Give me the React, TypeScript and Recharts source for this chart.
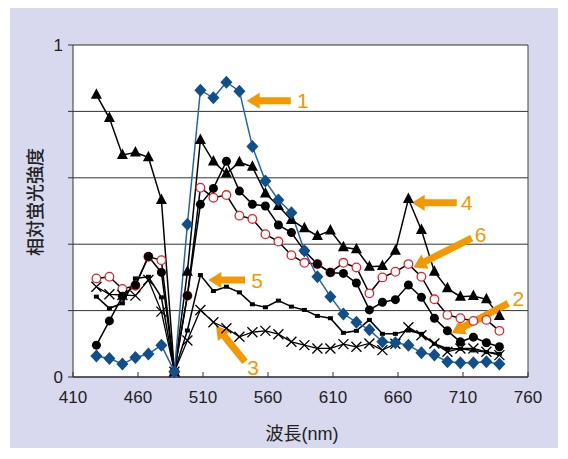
import { LineChart, Line, XAxis, YAxis, CartesianGrid, ReferenceLine } from "recharts";

const wavelengths = [428, 438, 448, 458, 468, 478, 488, 498, 508, 518, 528, 538, 548, 558, 568, 578, 588, 598, 608, 618, 628, 638, 648, 658, 668, 678, 688, 698, 708, 718, 728, 738];

const s1 = [0.063, 0.056, 0.039, 0.059, 0.069, 0.096, 0.016, 0.46, 0.864, 0.841, 0.888, 0.861, 0.694, 0.59, 0.533, 0.495, 0.38, 0.302, 0.242, 0.19, 0.165, 0.142, 0.106, 0.103, 0.096, 0.073, 0.066, 0.046, 0.043, 0.043, 0.046, 0.039];
const s2 = [0.096, 0.169, 0.243, 0.277, 0.363, 0.315, 0.016, 0.245, 0.52, 0.568, 0.65, 0.56, 0.52, 0.515, 0.458, 0.435, 0.38, 0.34, 0.315, 0.312, 0.283, 0.202, 0.225, 0.233, 0.277, 0.24, 0.177, 0.139, 0.106, 0.12, 0.103, 0.091];
const s3 = [0.272, 0.249, 0.247, 0.245, 0.292, 0.197, 0.016, 0.11, 0.202, 0.165, 0.147, 0.121, 0.135, 0.139, 0.129, 0.106, 0.096, 0.086, 0.086, 0.099, 0.091, 0.101, 0.081, 0.1, 0.15, 0.126, 0.101, 0.076, 0.086, 0.086, 0.076, 0.066];
const s4 = [0.85, 0.78, 0.669, 0.676, 0.662, 0.533, 0.016, 0.317, 0.714, 0.649, 0.613, 0.647, 0.633, 0.553, 0.515, 0.473, 0.448, 0.425, 0.441, 0.391, 0.385, 0.332, 0.334, 0.38, 0.536, 0.443, 0.317, 0.267, 0.242, 0.244, 0.234, 0.184];
const s5 = [0.242, 0.207, 0.222, 0.297, 0.302, 0.24, 0.016, 0.14, 0.307, 0.259, 0.272, 0.255, 0.219, 0.21, 0.23, 0.212, 0.202, 0.184, 0.177, 0.133, 0.139, 0.172, 0.13, 0.13, 0.14, 0.13, 0.1, 0.085, 0.085, 0.08, 0.075, 0.07];
const s6 = [0.297, 0.302, 0.265, 0.275, 0.362, 0.352, 0.016, 0.245, 0.57, 0.54, 0.548, 0.486, 0.476, 0.43, 0.408, 0.367, 0.344, 0.34, 0.315, 0.344, 0.33, 0.252, 0.3, 0.317, 0.34, 0.302, 0.234, 0.187, 0.177, 0.169, 0.172, 0.139];

const xTicks = [410, 460, 510, 560, 610, 660, 710, 760];
const yTicks = [0, 0.2, 0.4, 0.6, 0.8, 1];

// arrows: label, tail (x, y) and tip (x, y) in data units
const arrowLabels = ["1", "2", "3", "4", "5", "6"];
const arrowTail = [[577.5, 0.832], [744.8, 0.222], [542.3, 0.046], [705.2, 0.525], [542.3, 0.292], [716.7, 0.418]];
const arrowTip = [[543.6, 0.832], [701.3, 0.132], [520, 0.154], [670.5, 0.525], [514.1, 0.292], [671.8, 0.33]];
const labelShift = [[12, 0], [10, -5], [8, 6], [10, 0], [12, 0], [9, -4]];

const data = wavelengths.map((w, i) => ({ w, s1: s1[i], s2: s2[i], s3: s3[i], s4: s4[i], s5: s5[i], s6: s6[i] }));

const BLUE = "#0E4F8C";
const RED = "#E2232E";
const ORANGE = "#F39800";
const FONT = "'Liberation Sans', Arial, 'Noto Sans CJK JP', sans-serif";

const ok = (p: any) => p.cx != null && p.cy != null;

const diamondDot = (p: any) =>
  ok(p) ? (
    <path key={p.index} d={`M${p.cx},${p.cy - 6.5}L${p.cx + 6},${p.cy}L${p.cx},${p.cy + 6.5}L${p.cx - 6},${p.cy}Z`} fill={BLUE} />
  ) : <g key={p.index} />;

const triangleDot = (p: any) =>
  ok(p) ? (
    <path key={p.index} d={`M${p.cx},${p.cy - 6.5}L${p.cx + 5.5},${p.cy + 4}L${p.cx - 5.5},${p.cy + 4}Z`} fill="#000" />
  ) : <g key={p.index} />;

const circleDot = (p: any) =>
  ok(p) ? <circle key={p.index} cx={p.cx} cy={p.cy} r={4.5} fill="#000" /> : <g key={p.index} />;

const ringDot = (p: any) =>
  ok(p) ? <circle key={p.index} cx={p.cx} cy={p.cy} r={4.3} fill="#fff" stroke={RED} strokeWidth={1.3} /> : <g key={p.index} />;

const squareDot = (p: any) =>
  ok(p) ? <rect key={p.index} x={p.cx - 2.5} y={p.cy - 2} width={5} height={4} fill="#000" /> : <g key={p.index} />;

const crossDot = (p: any) =>
  ok(p) ? (
    <path key={p.index} d={`M${p.cx - 5},${p.cy - 5}L${p.cx + 5},${p.cy + 5}M${p.cx + 5},${p.cy - 5}L${p.cx - 5},${p.cy + 5}`} stroke="#000" strokeWidth={1.3} fill="none" />
  ) : <g key={p.index} />;

const XTick = (props: any) => {
  const { x, y, payload } = props;
  return (
    <g>
      <line x1={x} x2={x} y1={y} y2={y - 5} stroke="#333" />
      <text x={x} y={y + 26} textAnchor="middle" fontSize={17} fontFamily={FONT} fill="#222">
        {payload.value}
      </text>
    </g>
  );
};

const makeArrow = (label: string, shift: number[]) => (p: any) => {
  const { x1, y1, x2, y2 } = p;
  const dx = x2 - x1;
  const dy = y2 - y1;
  const len = Math.sqrt(dx * dx + dy * dy);
  const ux = dx / len;
  const uy = dy / len;
  const nx = -uy;
  const ny = ux;
  const head = 13;
  const hw = 8;
  const sw = 3.5;
  const bx = x2 - ux * head;
  const by = y2 - uy * head;
  const pts = [
    [x1 + nx * sw, y1 + ny * sw],
    [bx + nx * sw, by + ny * sw],
    [bx + nx * hw, by + ny * hw],
    [x2, y2],
    [bx - nx * hw, by - ny * hw],
    [bx - nx * sw, by - ny * sw],
    [x1 - nx * sw, y1 - ny * sw],
  ]
    .map((q) => q.join(","))
    .join(" ");
  return (
    <g>
      <polygon points={pts} fill={ORANGE} />
      <text x={x1 + shift[0]} y={y1 + shift[1]} dy="0.36em" textAnchor="middle" fontSize={21} fontFamily={FONT} fill={ORANGE}>
        {label}
      </text>
    </g>
  );
};

export default function App() {
  return (
    <div style={{ position: "absolute", left: 0, top: 0, width: 568, height: 459, background: "#fff" }}>
      <div style={{ position: "absolute", left: 10, top: 8, width: 548, height: 440, background: "#D8D8EE" }} />
      <div style={{ position: "absolute", left: 0, top: 0 }}>
        <LineChart width={568} height={459} data={data} margin={{ top: 45, right: 40, bottom: 22, left: 13 }}>
          <CartesianGrid vertical={false} stroke="#333" fill="#fff" fillOpacity={1} />
          <XAxis
            dataKey="w"
            type="number"
            domain={[410, 760]}
            ticks={xTicks}
            height={60}
            tickLine={false}
            tickSize={0}
            tickMargin={0}
            tick={<XTick />}
            axisLine={{ stroke: "#222" }}
            interval={0}
          />
          <YAxis
            type="number"
            domain={[0, 1]}
            ticks={yTicks}
            width={60}
            tickSize={5}
            tickMargin={5}
            tickLine={{ stroke: "#333" }}
            axisLine={{ stroke: "#333" }}
            tickFormatter={(v: number) => (v === 0 || v === 1 ? String(v) : "")}
            tick={{ fontSize: 17, fontFamily: FONT, fill: "#222" }}
            interval={0}
          />
          <ReferenceLine x={760} stroke="#444" />
          <Line dataKey="s6" stroke="#000" strokeWidth={1.5} dot={ringDot} activeDot={false} isAnimationActive={false} />
          <Line dataKey="s2" stroke="#000" strokeWidth={1.5} dot={circleDot} activeDot={false} isAnimationActive={false} />
          <Line dataKey="s5" stroke="#000" strokeWidth={1.5} dot={squareDot} activeDot={false} isAnimationActive={false} />
          <Line dataKey="s3" stroke="#000" strokeWidth={1.3} dot={crossDot} activeDot={false} isAnimationActive={false} />
          <Line dataKey="s4" stroke="#000" strokeWidth={1.5} dot={triangleDot} activeDot={false} isAnimationActive={false} />
          <Line dataKey="s1" stroke="#2A64A4" strokeWidth={1.5} dot={diamondDot} activeDot={false} isAnimationActive={false} />
          {arrowLabels.map((lab, i) => (
            <ReferenceLine
              key={lab}
              segment={[
                { x: arrowTail[i][0], y: arrowTail[i][1] },
                { x: arrowTip[i][0], y: arrowTip[i][1] },
              ]}
              ifOverflow="visible"
              shape={makeArrow(lab, labelShift[i])}
            />
          ))}
        </LineChart>
      </div>
      <svg width={568} height={459} style={{ position: "absolute", left: 0, top: 0, pointerEvents: "none" }}>
        <text transform="translate(42,202) rotate(-90)" textAnchor="middle" fontSize={18} fontWeight={500} fontFamily={FONT} fill="#222">
          相対蛍光強度
        </text>
        <text x={302} y={440} textAnchor="middle" fontSize={18} fontFamily={FONT} fill="#222">
          波長(nm)
        </text>
      </svg>
    </div>
  );
}
